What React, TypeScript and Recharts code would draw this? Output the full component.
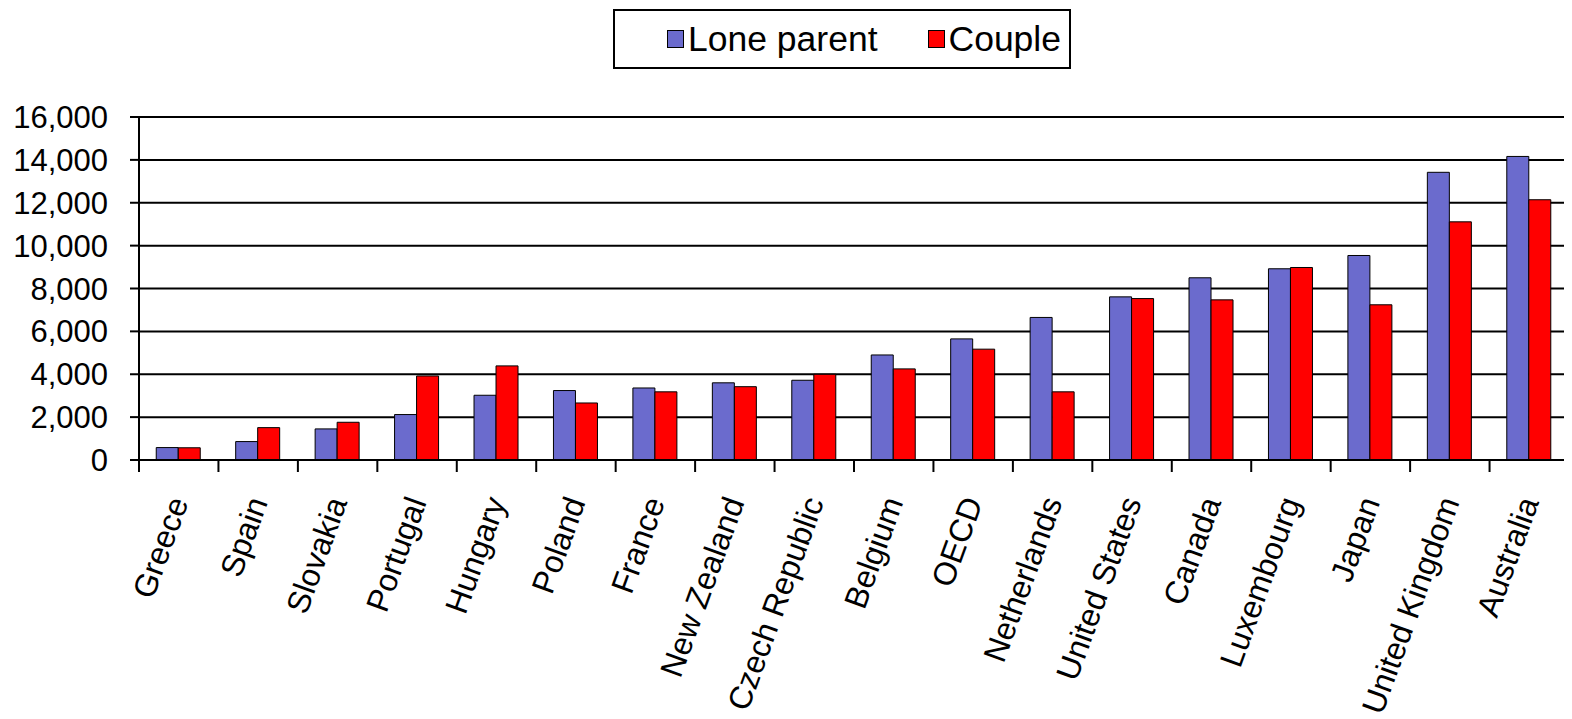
import { BarChart, Bar, XAxis, YAxis, CartesianGrid, Legend } from 'recharts'

const countries = [
  'Greece', 'Spain', 'Slovakia', 'Portugal', 'Hungary', 'Poland', 'France', 'New Zealand',
  'Czech Republic', 'Belgium', 'OECD', 'Netherlands', 'United States', 'Canada',
  'Luxembourg', 'Japan', 'United Kingdom', 'Australia',
]
const loneParent = [580, 860, 1450, 2120, 3020, 3240, 3360, 3600, 3720, 4900, 5650, 6650, 7610, 8500, 8920, 9540, 13420, 14160]
const couple = [570, 1510, 1760, 3920, 4390, 2660, 3180, 3420, 4000, 4250, 5170, 3180, 7530, 7470, 8980, 7240, 11110, 12140]
const yTicks = [0, 2000, 4000, 6000, 8000, 10000, 12000, 14000, 16000]
const seriesNames = ['Lone parent', 'Couple']

const COLORS = { lone: '#6B6BCD', couple: '#FF0000' }
const FONT = '"Liberation Sans", Arial, sans-serif'
const BAND = 1430 / countries.length

const data = countries.map((name, i) => ({ name, lone: loneParent[i], couple: couple[i] }))

function CountryTick({ x, y, payload }: any) {
  const bx = x - BAND / 2
  const tx = x + 10
  const ty = y + 42
  return (
    <g>
      <line x1={bx} y1={y} x2={bx} y2={y + 12} stroke="#000" strokeWidth={2} />
      <text
        x={tx}
        y={ty}
        transform={`rotate(-70, ${tx}, ${ty})`}
        textAnchor="end"
        fontSize={32}
        fontFamily={FONT}
        fill="#000"
      >
        {payload.value}
      </text>
    </g>
  )
}

function LegendBox({ payload }: any) {
  const items = [...(payload || [])].sort(
    (a: any, b: any) => seriesNames.indexOf(a.value) - seriesNames.indexOf(b.value)
  )
  return (
    <div
      style={{
        width: 402, height: 56, border: '2px solid #000', background: '#fff',
        display: 'flex', alignItems: 'center', justifyContent: 'flex-start', gap: 50,
        paddingLeft: 52, boxSizing: 'content-box',
        fontFamily: FONT, fontSize: 35.5, color: '#000',
      }}
    >
      {items.map((p: any) => (
        <div key={p.value} style={{ display: 'flex', alignItems: 'center', gap: 4 }}>
          <div style={{ width: 15, height: 16, background: p.color, border: '1px solid #000' }} />
          <span>{p.value}</span>
        </div>
      ))}
    </div>
  )
}

export default function App() {
  return (
    <div style={{ width: 1564, height: 711, background: '#fff' }}>
      <BarChart
        width={1564}
        height={711}
        data={data}
        margin={{ top: 109, right: 3, bottom: 0, left: 0 }}
        barCategoryGap="21.7%"
        barGap={0}
      >
        <CartesianGrid vertical={false} stroke="#000" strokeWidth={2} />
        <XAxis
          dataKey="name"
          interval={0}
          axisLine={{ stroke: '#000', strokeWidth: 2 }}
          tickLine={false}
          tickSize={0}
          tickMargin={0}
          tick={<CountryTick />}
          height={259}
        />
        <YAxis
          width={131}
          domain={[0, 16000]}
          ticks={yTicks}
          interval={0}
          axisLine={{ stroke: '#000', strokeWidth: 2 }}
          tickLine={{ stroke: '#000', strokeWidth: 2 }}
          tickSize={9}
          tickMargin={22}
          tickFormatter={(v: number) => v.toLocaleString('en-US')}
          tick={{ fontSize: 31, fontFamily: FONT, fill: '#000' }}
        />
        <Legend
          layout="horizontal"
          verticalAlign="middle"
          align="center"
          content={<LegendBox />}
          wrapperStyle={{ position: 'absolute', left: 605, top: 1, width: 458 }}
        />
        <Bar dataKey="lone" name="Lone parent" fill={COLORS.lone} stroke="#000" strokeWidth={1} isAnimationActive={false} />
        <Bar dataKey="couple" name="Couple" fill={COLORS.couple} stroke="#000" strokeWidth={1} isAnimationActive={false} />
      </BarChart>
    </div>
  )
}
